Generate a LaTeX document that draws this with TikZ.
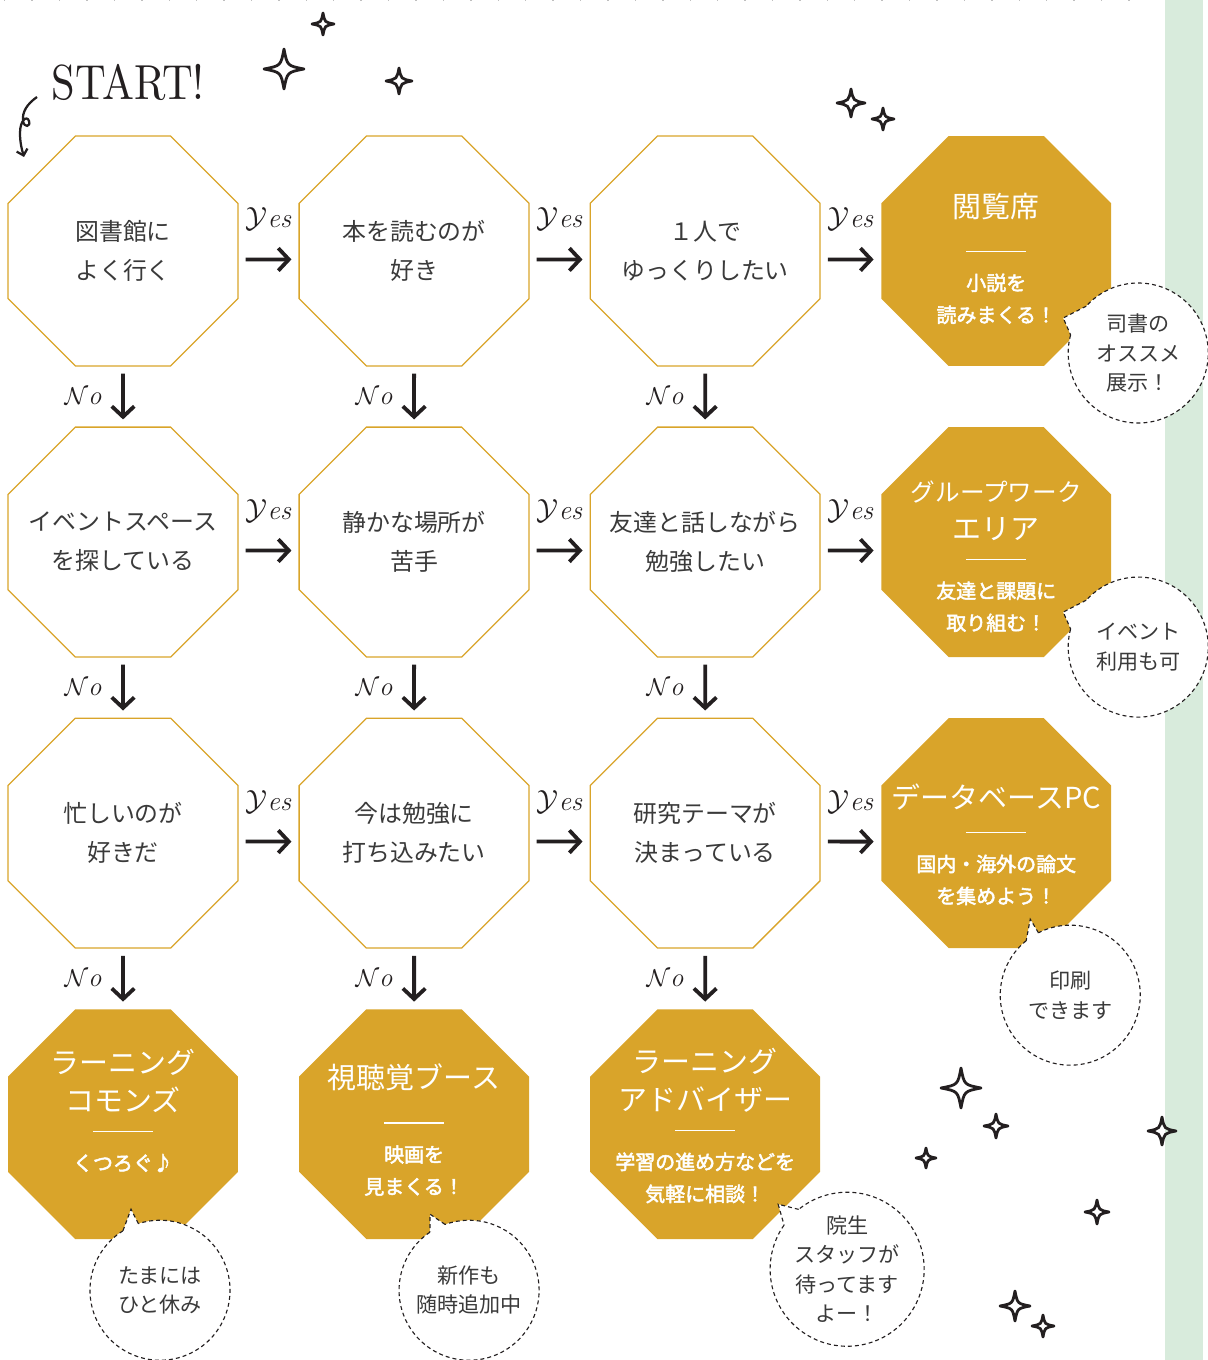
\documentclass[tikz,border=0pt]{standalone}
\usepackage{fontspec}
\usepackage{tikz}
\usetikzlibrary{arrows.meta,positioning,shapes.geometric,calc}
\newfontfamily\jp{Noto Sans CJK JP}
\newfontface\jpmid[FakeBold=2.5]{Noto Sans CJK JP}
\definecolor{gold}{HTML}{D9A42A}
\definecolor{ink}{HTML}{3A3A3A}
\definecolor{pen}{HTML}{231F20}
\definecolor{mint}{HTML}{D8EBDC}
\tikzset{
  question/.style={
    regular polygon,
    regular polygon sides=8,
    minimum size=6.22cm,
    inner sep=-1cm,
    draw=gold,
    line width=0.9pt,
    align=center,
    text=ink,
    font=\jp\fontsize{17}{27.7}\selectfont
  },
  answer/.style={
    question,
    draw=none,
    fill=gold,
    text=white,
    text width=5.4cm,
    inner sep=-1.5cm
  },
  bubble/.style={
    circle,
    fill=white,
    minimum size=3.5cm,
    inner sep=-2pt,
    outer sep=0pt,
    align=center,
    text=ink,
    font=\jp\fontsize{15}{21}\selectfont
  },
  bubble line/.style={
    draw=pen,
    line width=0.8pt,
    dash pattern=on 2.8pt off 2.2pt
  },
  yes/.style={
    draw=pen,
    line width=2.7pt,
    -{Straight Barb[length=7.5pt,width=16pt]},
    shorten <=5pt,
    shorten >=5pt
  },
  yes row/.style={yes, transform canvas={yshift=-6pt}},
  yes label/.style={above=19pt, inner sep=0pt, text=pen, font=\fontsize{19.5}{19.5}\selectfont},
  no label/.style={left=14pt, inner sep=0pt, text=pen, font=\fontsize{19}{19}\selectfont},
  sparkle/.style={draw=pen, line width=2pt, line join=round},
  top dots/.style={draw=black!25, line width=2pt, dash pattern=on 1pt off 18.5pt}
}
% [rule gap][top pad]{heading}{note}
\NewDocumentCommand{\answer}{O{-3pt} O{0pt} m m}{\parindent=0pt\par
  \vspace*{#2}
  {\fontsize{20.6}{27}\selectfont #3\par}\vspace{#1}
  \rule{1.5cm}{1pt}\par\vspace{4.5pt}
  {\jpmid\fontsize{14.2}{22.8}\selectfont #4\par}}
\newcommand{\txtyes}{$\mathcal{Y}$\textit{es}}
\newcommand{\txtno}{$\mathcal{N}$\textit{o}}
% dashed outline of a bubble with its tail
\newcommand{\bubbleoutline}[5]{
  \draw[bubble line, fill=white] (#1.#2) -- (#4) -- (#1.#3);
  \draw[bubble line] (#1.#3) arc[start angle=#3, end angle=#2+360, radius=#5];
}

\begin{document}
\begin{tikzpicture}[x=0.025cm, y=-0.025cm, node distance=7.275cm]
  \useasboundingbox (0,0) rectangle (1208,1360);
  \fill[mint] (1165,0) rectangle (1203,1360);
  \draw[top dots] (4,0) -- (1150,0);

  \node[text=pen, inner sep=0pt] (start) at (128,82) {\resizebox{3.83cm}{0.88cm}{START!}};
  \draw[pen, line width=1.6pt, -{Straight Barb[length=4pt,width=8pt]}]
    (37,97) .. controls (27,104) and (22,112) .. (23,121)
    .. controls (24,128) and (31,127) .. (29,121)
    .. controls (27,115) and (20,120) .. (20,133)
    .. controls (20,143) and (22,150) .. (24,157);

  \node[question] (lib) at (123,251) {図書館に\\よく行く};
  \node[question] (book) [right of=lib] {本を読むのが\\好き};
  \node[question] (alone) [right of=book] {１人で\\ゆっくりしたい};
  \node[answer] (seats) [right of=alone] {\answer[-3pt][1pt]{閲覧席}{小説を\\読みまくる！}};

  \node[question] (space) [below of=lib] {イベントスペース\\を探している};
  \node[question] (quiet) [right of=space] {静かな場所が\\苦手};
  \node[question] (chat) [right of=quiet] {友達と話しながら\\勉強したい};
  \node[answer] (group) [right of=chat]
    {\answer[-13pt][8pt]{{\fontsize{17.5}{25}\selectfont グループワーク}\\エリア}{友達と課題に\\取り組む！}};

  \node[question] (busy) [below of=space] {忙しいのが\\好きだ};
  \node[question] (study) [right of=busy] {今は勉強に\\打ち込みたい};
  \node[question] (theme) [right of=study] {研究テーマが\\決まっている};
  \node[answer] (dbpc) [right of=theme] {\answer[-10pt][6.5pt]{データベースPC}{国内・海外の論文\\を集めよう！}};

  \node[answer] (commons) [below of=busy] {\answer[-13pt][-29pt]{ラーニング\\コモンズ}{くつろぐ♪}};
  \node[answer] (booth) [right of=commons] {\answer[-3pt][-1.3pt]{視聴覚ブース}{映画を\\見まくる！}};
  \node[answer] (adviser) [right of=booth]
    {\answer[-13pt][-7.7pt]{ラーニング\\アドバイザー}{学習の進め方などを\\気軽に相談！}};

  \path[yes row] (lib) edge node[yes label] {\txtyes} (book)
                 (book) edge node[yes label] {\txtyes} (alone)
                 (alone) edge node[yes label] {\txtyes} (seats)
                 (space) edge node[yes label] {\txtyes} (quiet)
                 (quiet) edge node[yes label] {\txtyes} (chat)
                 (chat) edge node[yes label] {\txtyes} (group)
                 (busy) edge node[yes label] {\txtyes} (study)
                 (study) edge node[yes label] {\txtyes} (theme)
                 (theme) edge node[yes label] {\txtyes} (dbpc);

  \path[yes] (lib) edge node[no label] {\txtno} (space)
             (space) edge node[no label] {\txtno} (busy)
             (busy) edge node[no label] {\txtno} (commons)
             (book) edge node[no label] {\txtno} (quiet)
             (quiet) edge node[no label] {\txtno} (study)
             (study) edge node[no label] {\txtno} (booth)
             (alone) edge node[no label] {\txtno} (chat)
             (chat) edge node[no label] {\txtno} (theme)
             (theme) edge node[no label] {\txtno} (adviser);

  \node[bubble] (note1) at ($(seats)+(142,102)$) {司書の\\オススメ\\展示！};
  \coordinate (tip1) at ($(seats)+(67,67)$);
  \bubbleoutline{note1}{138}{165}{tip1}{1.75cm}

  \node[bubble] (note2) at ($(group)+(142,105)$) {イベント\\利用も可};
  \coordinate (tip2) at ($(group)+(67,70)$);
  \bubbleoutline{note2}{138}{165}{tip2}{1.75cm}

  \node[bubble] (note3) at ($(dbpc)+(74,162)$) {印刷\\できます};
  \coordinate (tip3) at ($(dbpc)+(34,86)$);
  \bubbleoutline{note3}{117}{129}{tip3}{1.75cm}

  \node[bubble] (note4) at ($(commons)+(37,166)$) {たまには\\ひと休み};
  \coordinate (tip4) at ($(commons)+(8,85)$);
  \bubbleoutline{note4}{108}{122}{tip4}{1.75cm}

  \node[bubble] (note5) at ($(booth)+(55,166)$) {新作も\\随時追加中};
  \coordinate (tip5) at ($(booth)+(16,90)$);
  \bubbleoutline{note5}{110}{124}{tip5}{1.75cm}

  \node[bubble, minimum size=3.85cm] (note6) at ($(adviser)+(142,145)$) {院生\\スタッフが\\待ってます\\よー！};
  \coordinate (tip6) at ($(adviser)+(73,80)$);
  \bubbleoutline{note6}{129}{145}{tip6}{1.925cm}

  \foreach \x/\y/\r in {323/24/11, 284/69/20, 399/81/13, 851/103/14, 883/119/11,
                        961/1088/20, 996/1126/12, 926/1158/10, 1162/1131/14,
                        1097/1212/12, 1015/1306/15, 1043/1326/11}
    \draw[sparkle] (\x,\y-\r) .. controls (\x+0.16*\r,\y-0.16*\r) .. (\x+\r,\y)
      .. controls (\x+0.16*\r,\y+0.16*\r) .. (\x,\y+\r)
      .. controls (\x-0.16*\r,\y+0.16*\r) .. (\x-\r,\y)
      .. controls (\x-0.16*\r,\y-0.16*\r) .. cycle;
\end{tikzpicture}
\end{document}
